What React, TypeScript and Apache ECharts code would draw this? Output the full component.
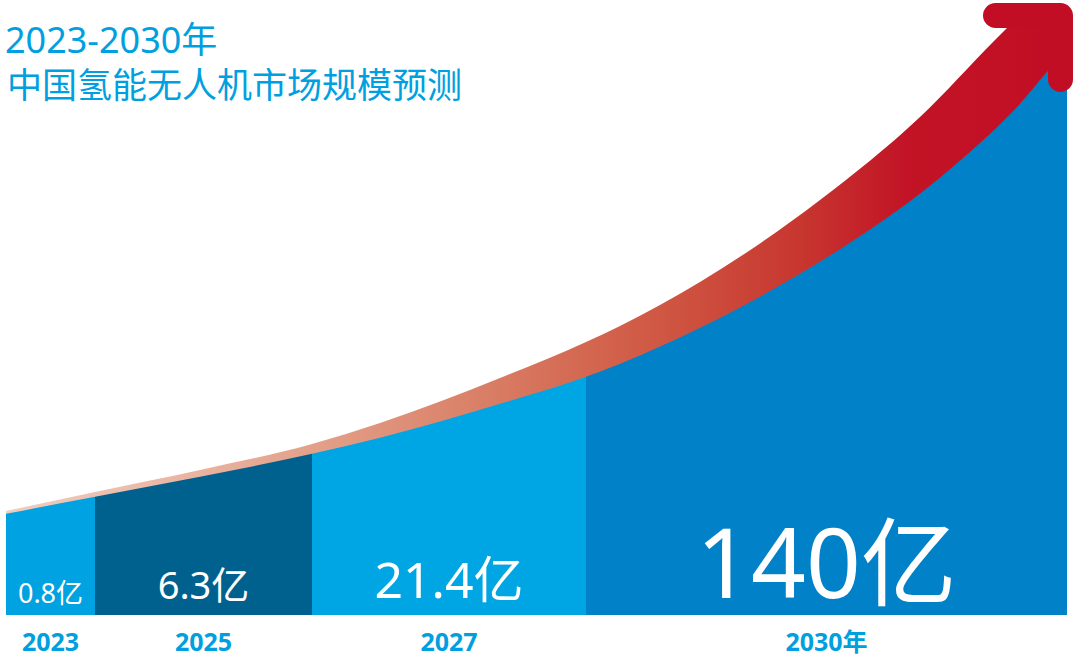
import React, { useEffect, useRef } from 'react';
import * as echarts from 'echarts';

// ---- data ----
const years = ['2023', '2025', '2027', '2030年'];
const marketSize = [0.8, 6.3, 21.4, 140]; // 亿元
const unit = '亿';
const titleText = '2023-2030年';
const subtitleText = '中国氢能无人机市场规模预测';

// horizontal extent of each year block (relative width units)
const columnEdges = [0, 89, 306, 580, 1061];

// upper outline of the blocks (relative width / height units)
const areaTopX = [0, 89, 194, 306, 374, 494, 580, 614, 694, 794, 847, 914, 954, 1014, 1042, 1061];
const areaTopY = [102, 119, 139, 162, 178, 212, 239, 252, 288, 342, 375, 422, 455, 512, 545, 567];

// upper outline of the growth arrow
const arrowTopX = [0, 89, 194, 306, 374, 494, 580, 614, 694, 814, 914, 989, 1001];
const arrowTopY = [104, 123, 145, 171, 192, 237, 273, 289, 333, 415, 498, 575, 587];
const arrowEndX = 1042; // where the arrow shaft's lower edge ends
const arrowHead = [[989.5, 599.5], [1054.5, 599.5], [1054.5, 535.5]];

// ---- styles ----
const COLUMN_COLORS = ['#00A2E1', '#01618E', '#00A6E3', '#0081C8'];
const LABEL_SIZE = [27, 38, 50, 96];
const LABEL_GAP = [13, 17, 18, 20];
const BLUE_TEXT = '#00A0E0';
const FONT = "'Noto Sans', 'Noto Sans CJK SC', sans-serif";
const ARROW_RED = '#C20E24';

type P = number[];

function slopes(p: P[]): number[] {
  const n = p.length;
  const m: number[] = new Array(n);
  for (let i = 0; i < n; i++) {
    if (i === 0) m[i] = (p[1][1] - p[0][1]) / (p[1][0] - p[0][0]);
    else if (i === n - 1) m[i] = (p[n - 1][1] - p[n - 2][1]) / (p[n - 1][0] - p[n - 2][0]);
    else {
      const h0 = p[i][0] - p[i - 1][0];
      const h1 = p[i + 1][0] - p[i][0];
      const d0 = (p[i][1] - p[i - 1][1]) / h0;
      const d1 = (p[i + 1][1] - p[i][1]) / h1;
      m[i] = (d0 * h1 + d1 * h0) / (h0 + h1);
    }
  }
  return m;
}

function segs(p: P[], m: number[], from: number, to: number): string {
  let s = '';
  for (let i = from; i < to; i++) {
    const [x0, y0] = p[i];
    const [x1, y1] = p[i + 1];
    const h = (x1 - x0) / 3;
    s += ` C ${x0 + h} ${y0 + m[i] * h} ${x1 - h} ${y1 - m[i + 1] * h} ${x1} ${y1}`;
  }
  return s;
}

function segsReverse(p: P[], m: number[], from: number, to: number): string {
  let s = '';
  for (let i = from; i > to; i--) {
    const [x1, y1] = p[i];
    const [x0, y0] = p[i - 1];
    const h = (x1 - x0) / 3;
    s += ` C ${x1 - h} ${y1 - m[i] * h} ${x0 + h} ${y0 + m[i - 1] * h} ${x0} ${y0}`;
  }
  return s;
}

export default function App() {
  const ref = useRef<HTMLDivElement>(null);

  useEffect(() => {
    if (!ref.current) return;
    const chart = echarts.init(ref.current, null, { renderer: 'svg' });

    const columnData = marketSize.map((v, i) => ({
      name: years[i],
      value: [columnEdges[i], columnEdges[i + 1], v],
    }));

    const option: any = {
      animation: false,
      backgroundColor: '#ffffff',
      title: [
        {
          text: titleText,
          left: 5,
          top: 21,
          padding: 0,
          textStyle: { fontSize: 36, fontWeight: 'normal', color: BLUE_TEXT, fontFamily: FONT },
        },
        {
          text: subtitleText,
          left: 7,
          top: 67,
          padding: 0,
          textStyle: { fontSize: 35, fontWeight: 'normal', color: BLUE_TEXT, fontFamily: FONT },
        },
      ],
      grid: { left: 6, right: 13, top: 0, bottom: 42, containLabel: false },
      xAxis: { type: 'value', min: 0, max: 1061, show: false },
      yAxis: { type: 'value', min: 0, max: 615, show: false },
      series: [
        {
          type: 'custom',
          name: '市场规模',
          coordinateSystem: 'cartesian2d',
          clip: false,
          data: columnData,
          z: 2,
          renderItem: (params: any, api: any) => {
            const i = params.dataIndex;
            const pts = areaTopX.map((x, k) => api.coord([x, areaTopY[k]]));
            const m = slopes(pts);
            const a = areaTopX.indexOf(api.value(0));
            const b = areaTopX.indexOf(api.value(1));
            const b0 = api.coord([api.value(0), 0]);
            const b1 = api.coord([api.value(1), 0]);
            const d =
              `M ${b0[0]} ${b0[1]} L ${pts[a][0]} ${pts[a][1]}` +
              segs(pts, m, a, b) +
              ` L ${b1[0]} ${b1[1]} Z`;
            const cx = (b0[0] + b1[0]) / 2;
            const fs = LABEL_SIZE[i];
            return {
              type: 'group',
              children: [
                {
                  type: 'path',
                  shape: { pathData: d },
                  style: { fill: COLUMN_COLORS[i] },
                },
                {
                  type: 'text',
                  x: cx,
                  y: b0[1] - LABEL_GAP[i] - 0.357 * fs,
                  style: {
                    text: `${api.value(2)}${unit}`,
                    fill: '#ffffff',
                    fontSize: fs,
                    fontFamily: FONT,
                    align: 'center',
                    verticalAlign: 'middle',
                  },
                },
                {
                  type: 'text',
                  x: cx,
                  y: b0[1] + 26,
                  style: {
                    text: years[i],
                    fill: BLUE_TEXT,
                    fontSize: 25,
                    fontWeight: 'bold',
                    fontFamily: FONT,
                    align: 'center',
                    verticalAlign: 'middle',
                  },
                },
              ],
            };
          },
        },
        {
          type: 'custom',
          name: '增长箭头',
          coordinateSystem: 'cartesian2d',
          clip: false,
          data: [[0, 0]],
          z: 3,
          silent: true,
          renderItem: (params: any, api: any) => {
            const up = arrowTopX.map((x, k) => api.coord([x, arrowTopY[k]]));
            const mu = slopes(up);
            const low = areaTopX.map((x, k) => {
              const c = api.coord([x, areaTopY[k]]);
              return [c[0], c[1] + 0.8];
            });
            const ml = slopes(low);
            const endIdx = areaTopX.indexOf(arrowEndX);
            const lastUp = up[up.length - 1];
            const endLow = low[endIdx];
            const cornerX = endLow[0] + 4;
            const d =
              `M ${up[0][0]} ${up[0][1]}` +
              segs(up, mu, 0, up.length - 1) +
              ` L ${cornerX} ${lastUp[1] - 4} L ${cornerX} ${endLow[1]} L ${endLow[0]} ${endLow[1]}` +
              segsReverse(low, ml, endIdx, 0) +
              ' Z';
            const head = arrowHead.map((p) => api.coord(p));
            return {
              type: 'group',
              children: [
                {
                  type: 'path',
                  shape: { pathData: d },
                  style: {
                    fill: new echarts.graphic.LinearGradient(0, 0, 1, 0, [
                      { offset: 0, color: '#F0CDBF' },
                      { offset: 0.2, color: '#E8B19D' },
                      { offset: 0.3, color: '#E39F88' },
                      { offset: 0.45, color: '#DA8068' },
                      { offset: 0.56, color: '#D3664F' },
                      { offset: 0.66, color: '#CD4F3E' },
                      { offset: 0.76, color: '#C7362F' },
                      { offset: 0.86, color: '#C21426' },
                      { offset: 1, color: ARROW_RED },
                    ]),
                  },
                },
                {
                  type: 'polyline',
                  shape: { points: head },
                  style: {
                    fill: null,
                    stroke: ARROW_RED,
                    lineWidth: 25,
                    lineCap: 'round',
                    lineJoin: 'round',
                  },
                },
              ],
            };
          },
        },
      ],
    };

    chart.setOption(option);
    return () => chart.dispose();
  }, []);

  return (
    <div
      ref={ref}
      style={{ position: 'fixed', left: 0, top: 0, width: 1080, height: 657, background: '#fff' }}
    />
  );
}
